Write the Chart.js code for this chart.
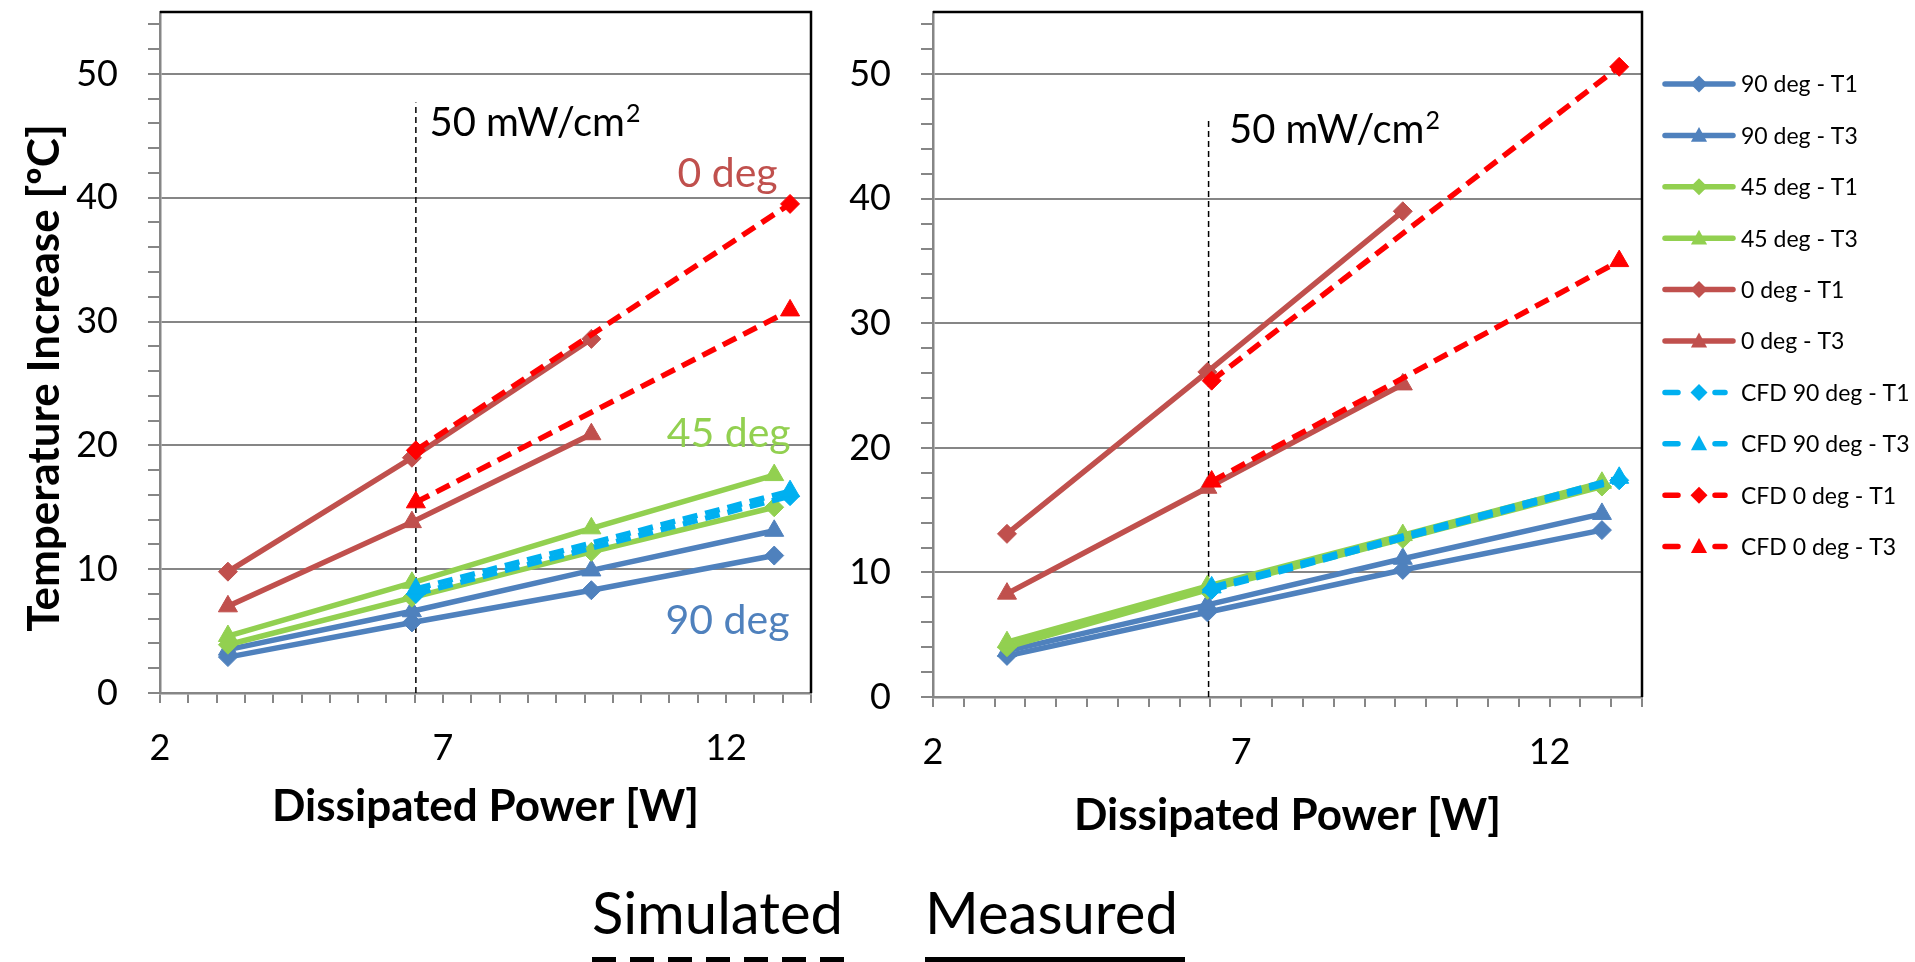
<!DOCTYPE html>
<html>
<head>
<meta charset="utf-8">
<title>Temperature increase vs dissipated power</title>
<script src="https://cdn.jsdelivr.net/npm/chart.js@4.4.1/dist/chart.umd.min.js"></script>
<style>
  html, body { margin: 0; padding: 0; background: #fff; }
  body { width: 1915px; height: 962px; position: relative; overflow: hidden; font-family: Lato, sans-serif; }
  #leftChart { position: absolute; left: 0; top: 0; }
  #rightChart { position: absolute; left: 830px; top: 0; }
  .caption { position: absolute; top: 883px; font-size: 58px; line-height: 58px; color: #000; white-space: nowrap; }
  .stroke { position: absolute; top: 957px; height: 5px; }
</style>
</head>
<body>
<canvas id="leftChart" width="830" height="962"></canvas>
<canvas id="rightChart" width="1085" height="962"></canvas>
<div class="caption" style="left:592px">Simulated</div>
<div class="caption" style="left:925px">Measured</div>
<div class="stroke" style="left:592px;width:259px;background:repeating-linear-gradient(to right,#000 0 24px,transparent 24px 38px)"></div>
<div class="stroke" style="left:925px;width:260px;background:#000"></div>
<script>
const seriesNames = [
  "90 deg - T1", "90 deg - T3", "45 deg - T1", "45 deg - T3", "0 deg - T1",
  "0 deg - T3", "CFD 90 deg - T1", "CFD 90 deg - T3", "CFD 0 deg - T1", "CFD 0 deg - T3",
];
const seriesColors = [
  "#4f81bd", "#4f81bd", "#92d050", "#92d050", "#c0504d",
  "#c0504d", "#00b0f0", "#00b0f0", "#ff0000", "#ff0000",
];
const seriesMarkers = ["rectRot", "triangle", "rectRot", "triangle", "rectRot", "triangle", "rectRot", "triangle", "rectRot", "triangle"];
const seriesDashed = [false, false, false, false, false, false, true, true, true, true];

// dissipated power [W]
const powerMeasured = [3.2, 6.45, 9.62, 12.85];
const powerMeasured0 = [3.2, 6.45, 9.62];
const powerCfd = [6.52, 13.13];

const xTickLabels = [2, 7, 12];
const yTickLabels = [0, 10, 20, 30, 40, 50];

// left panel - temperature increase [ºC]
const left90T1 = [2.9, 5.7, 8.3, 11.1];
const left90T3 = [3.5, 6.6, 9.9, 13.1];
const left45T1 = [3.9, 7.7, 11.4, 15.0];
const left45T3 = [4.6, 8.9, 13.3, 17.6];
const left0T1 = [9.8, 19.0, 28.6];
const left0T3 = [7.0, 13.8, 20.9];
const leftCfd90T1 = [8.0, 15.9];
const leftCfd90T3 = [8.4, 16.3];
const leftCfd0T1 = [19.6, 39.5];
const leftCfd0T3 = [15.4, 30.9];

// right panel
const right90T1 = [3.3, 6.8, 10.2, 13.4];
const right90T3 = [3.7, 7.4, 11.1, 14.7];
const right45T1 = [4.0, 8.6, 12.7, 16.9];
const right45T3 = [4.4, 8.9, 13.0, 17.2];
const right0T1 = [13.1, 26.1, 39.0];
const right0T3 = [8.3, 16.8, 25.1];
const rightCfd90T1 = [8.6, 17.4];
const rightCfd90T3 = [8.8, 17.6];
const rightCfd0T1 = [25.4, 50.6];
const rightCfd0T3 = [17.3, 35.0];

const seriesX = [
  powerMeasured, powerMeasured, powerMeasured, powerMeasured, powerMeasured0,
  powerMeasured0, powerCfd, powerCfd, powerCfd, powerCfd,
];

const xTickValues = [];
for (let v = 2; v <= 13.5; v += 0.5) xTickValues.push(v);
const yTickValues = [];
for (let v = 0; v <= 54; v += 2) yTickValues.push(v);

const AXIS_GREY = "#868686";

const buildDatasets = (values) =>
  values.map((ys, i) => ({
    label: seriesNames[i],
    data: ys.map((y, j) => ({ x: seriesX[i][j], y })),
    borderColor: seriesColors[i],
    backgroundColor: seriesColors[i],
    borderWidth: 5.5,
    borderDash: seriesDashed[i] ? [15, 8] : [],
    pointStyle: seriesMarkers[i],
    pointRadius: seriesMarkers[i] === "triangle" ? 11 : 9.5,
    pointBackgroundColor: seriesColors[i],
    pointBorderColor: seriesColors[i],
    pointBorderWidth: 1,
    tension: 0,
    order: 10 - i,
  }));

const drawMarker = (ctx, style, x, y, r) => {
  ctx.beginPath();
  if (style === "triangle") {
    ctx.moveTo(x, y - r);
    ctx.lineTo(x + r * 0.95, y + r * 0.75);
    ctx.lineTo(x - r * 0.95, y + r * 0.75);
  } else {
    ctx.moveTo(x, y - r);
    ctx.lineTo(x + r, y);
    ctx.lineTo(x, y + r);
    ctx.lineTo(x - r, y);
  }
  ctx.closePath();
  ctx.fill();
};

const drawLegend = (ctx, left, top, step) => {
  seriesNames.forEach((name, i) => {
    const cy = top + i * step;
    ctx.save();
    ctx.strokeStyle = seriesColors[i];
    ctx.fillStyle = seriesColors[i];
    ctx.lineWidth = 5.5;
    ctx.lineCap = "round";
    ctx.beginPath();
    if (seriesDashed[i]) {
      ctx.moveTo(left + 2, cy);
      ctx.lineTo(left + 15, cy);
      ctx.moveTo(left + 52, cy);
      ctx.lineTo(left + 62, cy);
    } else {
      ctx.moveTo(left + 2, cy);
      ctx.lineTo(left + 70, cy);
    }
    ctx.stroke();
    drawMarker(ctx, seriesMarkers[i], left + 36, cy, 8.5);
    ctx.fillStyle = "#000";
    ctx.font = "23px Lato";
    ctx.textBaseline = "middle";
    ctx.fillText(name, left + 78, cy + 1);
    ctx.restore();
  });
};

const decorations = (opts) => ({
  id: "decor",
  beforeDatasetsDraw(chart) {
    const { ctx, scales: { x, y } } = chart;
    const px = x.getPixelForValue(opts.markX);
    ctx.save();
    ctx.strokeStyle = "#000";
    ctx.lineWidth = 1.5;
    ctx.setLineDash([6, 4]);
    ctx.beginPath();
    ctx.moveTo(px, y.getPixelForValue(0));
    ctx.lineTo(px, y.getPixelForValue(opts.markTop));
    ctx.stroke();
    ctx.restore();
  },
  afterDraw(chart) {
    const { ctx, chartArea, scales: { x, y } } = chart;
    ctx.save();
    // frame
    ctx.strokeStyle = "#000";
    ctx.lineWidth = 2.5;
    ctx.beginPath();
    ctx.moveTo(chartArea.left, chartArea.top);
    ctx.lineTo(chartArea.right, chartArea.top);
    ctx.lineTo(chartArea.right, chartArea.bottom);
    ctx.stroke();

    // 50 mW/cm2
    const tx = x.getPixelForValue(opts.textX);
    const ty = y.getPixelForValue(opts.textY);
    ctx.fillStyle = "#000";
    ctx.font = "40px Lato";
    ctx.textBaseline = "alphabetic";
    ctx.textAlign = "left";
    ctx.fillText("50 mW/cm", tx, ty);
    const w = ctx.measureText("50 mW/cm").width;
    ctx.font = "25px Lato";
    ctx.fillText("2", tx + w + 1, ty - 14);

    (opts.notes || []).forEach((n) => {
      ctx.fillStyle = n.color;
      ctx.font = "41px Lato";
      ctx.textAlign = "right";
      ctx.fillText(n.text, x.getPixelForValue(n.x), y.getPixelForValue(n.y));
    });

    if (opts.yTitle) {
      ctx.translate(45, 378);
      ctx.rotate(-Math.PI / 2);
      ctx.fillStyle = "#000";
      ctx.font = "bold 44px Lato";
      ctx.textAlign = "center";
      ctx.textBaseline = "middle";
      ctx.fillText(opts.yTitle, 0, 0);
      ctx.setTransform(1, 0, 0, 1, 0, 0);
    }
    ctx.restore();

    if (opts.legend) drawLegend(ctx, opts.legend.left, opts.legend.top, opts.legend.step);
  },
});

const buildOptions = (pad, yWidth, xHeight) => ({
  responsive: false,
  animation: false,
  events: [],
  layout: { padding: pad },
  plugins: { legend: { display: false }, tooltip: { enabled: false } },
  scales: {
    x: {
      type: "linear",
      min: 2,
      max: 13.5,
      afterBuildTicks: (axis) => {
        axis.ticks = xTickValues.map((value) => ({ value }));
      },
      afterFit: (axis) => {
        axis.height = xHeight;
        axis.paddingLeft = 0;
        axis.paddingRight = 0;
      },
      grid: { drawOnChartArea: false, color: AXIS_GREY, tickLength: 10, lineWidth: 2 },
      border: { color: AXIS_GREY, width: 2.5 },
      ticks: {
        autoSkip: false,
        maxRotation: 0,
        padding: 24,
        color: "#000",
        font: { family: "Lato", size: 36 },
        callback: (v) => (xTickLabels.includes(v) ? String(v) : ""),
      },
      title: {
        display: true,
        text: "Dissipated Power [W]",
        color: "#000",
        font: { family: "Lato", size: 44, weight: "bold" },
        padding: 0,
      },
    },
    y: {
      min: 0,
      max: 55,
      afterBuildTicks: (axis) => {
        axis.ticks = yTickValues.map((value) => ({ value }));
      },
      afterFit: (axis) => {
        axis.width = yWidth;
        axis.paddingTop = 0;
        axis.paddingBottom = 0;
      },
      grid: {
        color: (c) => (c.tick && yTickLabels.includes(c.tick.value) ? AXIS_GREY : "rgba(0,0,0,0)"),
        tickColor: AXIS_GREY,
        tickLength: 12,
        lineWidth: 2,
      },
      border: { color: AXIS_GREY, width: 2.5 },
      ticks: {
        autoSkip: false,
        padding: 30,
        color: "#000",
        font: { family: "Lato", size: 36 },
        callback: (v) => (yTickLabels.includes(v) ? String(v) : ""),
      },
    },
  },
});

new Chart(document.getElementById("leftChart"), {
  type: "line",
  data: {
    datasets: buildDatasets([
      left90T1, left90T3, left45T1, left45T3, left0T1,
      left0T3, leftCfd90T1, leftCfd90T3, leftCfd0T1, leftCfd0T3,
    ]),
  },
  options: buildOptions({ left: 0, top: 7, right: 19, bottom: 129 }, 160, 140),
  plugins: [
    decorations({
      markX: 6.52,
      markTop: 47.7,
      textX: 6.76,
      textY: 45.0,
      yTitle: "Temperature Increase [ºC]",
      notes: [
        { text: "0 deg", x: 12.91, y: 40.9, color: "#c0504d" },
        { text: "45 deg", x: 13.14, y: 19.9, color: "#92d050" },
        { text: "90 deg", x: 13.12, y: 4.8, color: "#4f81bd" },
      ],
    }),
  ],
});

new Chart(document.getElementById("rightChart"), {
  type: "line",
  data: {
    datasets: buildDatasets([
      right90T1, right90T3, right45T1, right45T3, right0T1,
      right0T3, rightCfd90T1, rightCfd90T3, rightCfd0T1, rightCfd0T3,
    ]),
  },
  options: buildOptions({ left: 0, top: 4, right: 273, bottom: 120 }, 103, 145),
  plugins: [
    decorations({
      markX: 6.47,
      markTop: 46.3,
      textX: 6.8,
      textY: 44.5,
      legend: { left: 833, top: 84, step: 51.4 },
    }),
  ],
});
</script>
</body>
</html>
